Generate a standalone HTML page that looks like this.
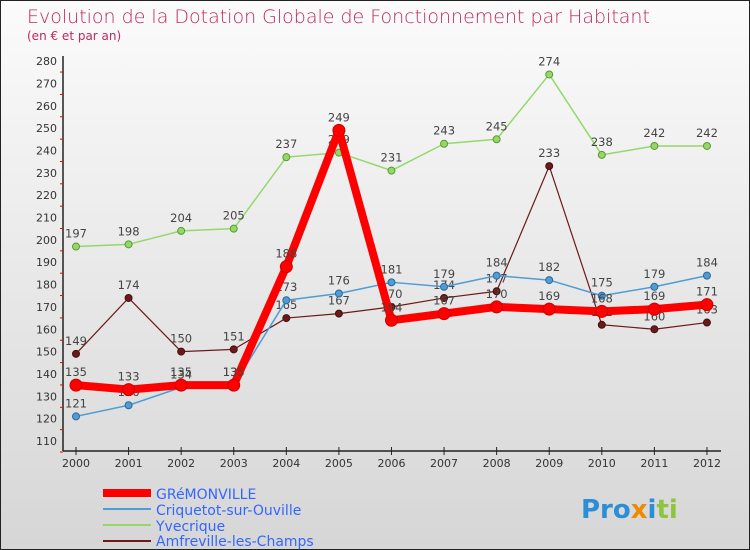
<!DOCTYPE html>
<html><head><meta charset="utf-8"><style>
body{margin:0;}
#wrap{width:748px;height:548px;border:1px solid #222;background:linear-gradient(#fbfbfb,#d6d6d6);position:relative;overflow:hidden;font-family:"DejaVu Sans","Liberation Sans",sans-serif;}
</style></head><body>
<div id="wrap">
<svg id="svg" width="748" height="548" xmlns="http://www.w3.org/2000/svg">
<text x="26" y="22" font-size="19" fill="#c0285a" font-weight="200">Evolution de la Dotation Globale de Fonctionnement par Habitant</text>
<text x="26" y="39" font-size="12" fill="#c0285a">(en € et par an)</text>
<g id="axes"></g><g id="series"></g>
<g>
<line x1="102" y1="492" x2="150" y2="492" stroke="#ff0000" stroke-width="8"/>
<text x="155" y="498" font-size="14" fill="#3366ff">GRéMONVILLE</text>
<line x1="102" y1="508" x2="150" y2="508" stroke="#4f9cd6" stroke-width="2"/>
<text x="155" y="514" font-size="14" fill="#3366ff">Criquetot-sur-Ouville</text>
<line x1="102" y1="524" x2="150" y2="524" stroke="#94d86a" stroke-width="2"/>
<text x="155" y="530" font-size="14" fill="#3366ff">Yvecrique</text>
<line x1="102" y1="540" x2="150" y2="540" stroke="#6b1a1a" stroke-width="2"/>
<text x="155" y="545" font-size="14" fill="#3366ff">Amfreville-les-Champs</text>
</g>
<text x="580" y="517" font-size="26" font-weight="bold"><tspan fill="#2a8fd6">Pro</tspan><tspan fill="#f08a00">x</tspan><tspan fill="#2a8fd6">i</tspan><tspan fill="#8cc63f">ti</tspan></text>
</svg>
</div>
<script>
const years=[2000,2001,2002,2003,2004,2005,2006,2007,2008,2009,2010,2011,2012];
const gremonville=[135,133,135,135,188,249,164,167,170,169,168,169,171];
const criquetot=[121,126,134,135,173,176,181,179,184,182,175,179,184];
const yvecrique=[197,198,204,205,237,239,231,243,245,274,238,242,242];
const amfreville=[149,174,150,151,165,167,170,174,177,233,162,160,163];
const yTicks=[110,120,130,140,150,160,170,180,190,200,210,220,230,240,250,260,270,280];
const NS="http://www.w3.org/2000/svg";
const xs=i=>75+i*52.58;
const ys=v=>440-(v-110)*2.235;
function mk(t,a,p){const e=document.createElementNS(NS,t);for(const k in a)e.setAttribute(k,a[k]);p.appendChild(e);return e;}
const ax=document.getElementById('axes');
const yl=mk('line',{x1:62,y1:55,x2:62,y2:450,stroke:'#222','stroke-width':1.5},ax);


const xl=mk('line',{x1:62,y1:450,x2:720,y2:450,stroke:'#222','stroke-width':1.5},ax);


yTicks.forEach(v=>{const t=mk('text',{x:56,y:ys(v)+4,'font-size':11,fill:'#333','text-anchor':'end'},ax);t.textContent=v;


mk('line',{x1:59,y1:ys(v)+11,x2:62,y2:ys(v)+11,stroke:'#e00','stroke-width':1},ax);});
years.forEach((y,i)=>{mk('line',{x1:xs(i),y1:446,x2:xs(i),y2:454,stroke:'#222'},ax);
const t=mk('text',{x:xs(i),y:466,'font-size':11,fill:'#333','text-anchor':'middle'},ax);t.textContent=y;

});
const sg=document.getElementById('series');
function series(name,d,color,w,r,dark){
const g=mk('g',{},sg);


mk('polyline',{points:d.map((v,i)=>xs(i)+','+ys(v)).join(' '),fill:'none',stroke:color,'stroke-width':w,'stroke-linejoin':'round'},g);
d.forEach((v,i)=>{const c=mk('circle',{cx:xs(i),cy:ys(v),r:r,fill:color,stroke:dark,'stroke-width':1},g);


const t=mk('text',{x:xs(i),y:ys(v)-9,'font-size':11.5,fill:'#444','text-anchor':'middle'},g);t.textContent=v;

});
}
series('yvecrique',yvecrique,'#94d86a',1.5,3.5,'#5a9a30');
series('amfreville',amfreville,'#6b1a1a',1.2,3.5,'#4a0f0f');
series('criquetot',criquetot,'#4f9cd6',1.5,3.5,'#2a6a9a');
series('gremonville',gremonville,'#ff0000',8,6,'#cc0000');
</script>
</body></html>
